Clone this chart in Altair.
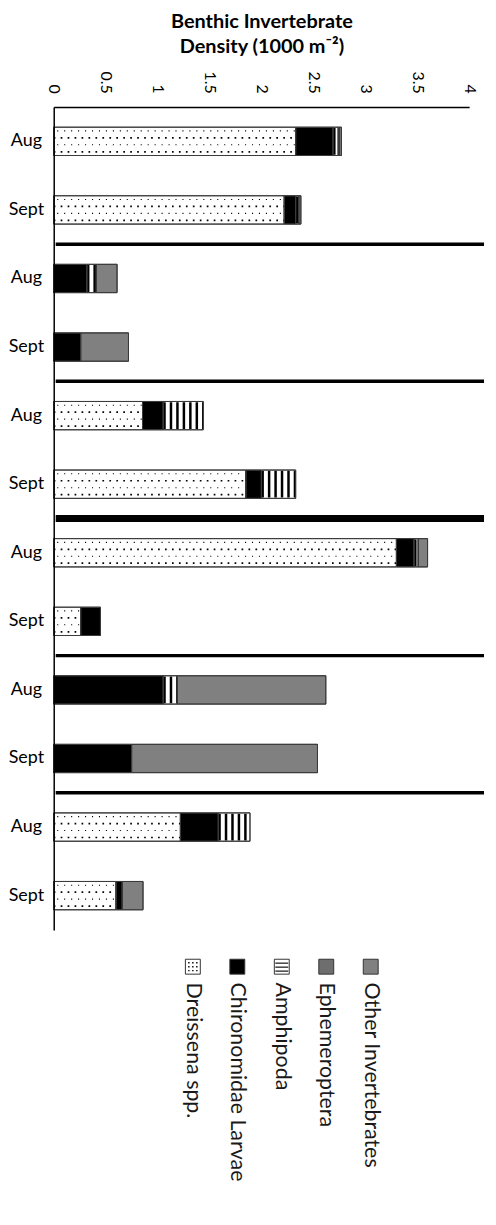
import altair as alt
import pandas as pd

# ---- data ----
groups = [1, 1, 2, 2, 3, 3, 4, 4, 5, 5, 6, 6]
months = ["Aug", "Sept"] * 6
dreissena = [2.33, 2.22, 0, 0, 0.855, 1.85, 3.30, 0.26, 0, 0, 1.22, 0.60]
chironomidae = [0.36, 0.11, 0.32, 0.26, 0.20, 0.15, 0.17, 0.19, 1.055, 0.75, 0.365, 0.06]
amphipoda = [0.05, 0.03, 0.09, 0, 0.385, 0.33, 0.04, 0, 0.135, 0, 0.305, 0]
ephemeroptera = [0.01, 0, 0, 0, 0, 0, 0, 0, 0, 0, 0, 0]
other = [0.02, 0.02, 0.20, 0.46, 0, 0, 0.09, 0, 1.43, 1.79, 0, 0.20]

species = ["Dreissena spp.", "Chironomidae Larvae", "Amphipoda", "Ephemeroptera", "Other Invertebrates"]
fills = ["#ffffff", "#000000", "#ffffff", "#8c8c8c", "#808080"]
legend_fills = ["#ffffff", "#000000", "#ffffff", "#6e6e6e", "#808080"]
tick_values = [0, 0.5, 1, 1.5, 2, 2.5, 3, 3.5, 4]
title_lines = ["Benthic Invertebrate", "Density (1000 m\u207b\u00b2)"]
thin_separators = ["1-Sept", "2-Sept", "4-Sept", "5-Sept"]
thick_separators = ["3-Sept"]

FONT = "Lato"
W, H = 418, 828

ids = [f"{g}-{m}" for g, m in zip(groups, months)]
series = [dreissena, chironomidae, amphipoda, ephemeroptera, other]
rows = []
for i, bid in enumerate(ids):
    start = 0.0
    for sp, vals in zip(species, series):
        v = vals[i]
        if v > 0:
            rows.append({"bar": bid, "species": sp, "start": start, "end": start + v})
        start += v
df = pd.DataFrame(rows)

x_enc = alt.X(
    "start:Q",
    scale=alt.Scale(domain=[0, 4], nice=False, zero=True),
    axis=alt.Axis(
        orient="top", values=tick_values, labelAngle=90, ticks=False, grid=False,
        title=title_lines, titleFont=FONT, titleFontSize=20, titleFontWeight="bold",
        titleColor="#000", titleLineHeight=24.5, titlePadding=15,
        labelFont=FONT, labelFontSize=16, labelColor="#000", labelPadding=14,
        domainColor="#000", domainWidth=1.5, format="~g",
    ),
)
y_enc = alt.Y(
    "bar:N",
    scale=alt.Scale(domain=ids, paddingInner=0.587, paddingOuter=0.2935),
    axis=alt.Axis(
        title=None, ticks=False, grid=False,
        labelExpr="split(datum.value, '-')[1]", labelAlign="center", labelPadding=28,
        labelFont=FONT, labelFontSize=18, labelColor="#000",
        domainColor="#000", domainWidth=1.5,
    ),
    sort=None,
)

base = alt.Chart(df)
bars = base.mark_rect(stroke="#3a3a3a", strokeWidth=1).encode(
    x=x_enc, x2="end:Q", y=y_enc,
    fill=alt.Fill("species:N", scale=alt.Scale(domain=species, range=fills), legend=None),
)

dre = base.transform_filter(alt.datum.species == species[0])
dot_rows = []
for k, yo in enumerate([-10.5, -3.5, 3.5, 10.5]):
    big = k % 2 == 1
    dot_rows.append(
        dre.mark_rule(
            color="#000", yOffset=yo,
            strokeWidth=1.7 if big else 1.1,
            strokeDash=[1.7, 5.3] if big else [1.1, 5.9],
            strokeDashOffset=0 if big else -3.5,
        ).encode(x="start:Q", x2="end:Q", y=alt.Y("bar:N"))
    )

amph = base.transform_filter(alt.datum.species == species[2]).mark_rule(
    color="#000", strokeWidth=27, strokeDash=[2.5, 4]
).encode(x="start:Q", x2="end:Q", y=alt.Y("bar:N"))

outline = base.mark_rect(fillOpacity=0, stroke="#3a3a3a", strokeWidth=1).encode(
    x="start:Q", x2="end:Q", y=alt.Y("bar:N")
)

thin = alt.Chart(pd.DataFrame({"bar": thin_separators})).mark_rule(
    color="#000", strokeWidth=3.5, yOffset=34.5
).encode(y=alt.Y("bar:N"), x=alt.value(2), x2=alt.value(433))
thick = alt.Chart(pd.DataFrame({"bar": thick_separators})).mark_rule(
    color="#000", strokeWidth=7, yOffset=34.5
).encode(y=alt.Y("bar:N"), x=alt.value(2), x2=alt.value(433))

main = alt.layer(bars, *dot_rows, amph, outline, thin, thick)

# ---- legend (rotated, as in the reference), drawn below the plot ----
SQ_Y = H + 37
TX_Y = H + 53
leg = alt.Chart(pd.DataFrame({"species": species}))
lx = alt.X("species:N", scale=alt.Scale(type="point", domain=species, range=[140, 319], padding=0), axis=None, sort=None)
squares = leg.mark_square(size=225, stroke="#333", strokeWidth=1, opacity=1).encode(
    x=lx, y=alt.value(SQ_Y),
    fill=alt.Fill("species:N", scale=alt.Scale(domain=species, range=legend_fills), legend=None),
)
leg_layers = [squares]
for yo in [-3.5, 0.5, 4.5]:
    leg_layers.append(
        leg.transform_filter(alt.datum.species == species[2]).mark_tick(
            orient="horizontal", size=13, thickness=1.6, color="#000", yOffset=yo
        ).encode(x=lx, y=alt.value(SQ_Y))
    )
for xo in [-4, 0, 4]:
    for yo in [-4, 0, 4]:
        leg_layers.append(
            leg.transform_filter(alt.datum.species == species[0]).mark_point(
                shape="square", filled=True, size=2, color="#000", xOffset=xo, yOffset=yo, opacity=1
            ).encode(x=lx, y=alt.value(SQ_Y))
        )
texts = leg.mark_text(angle=90, align="left", baseline="middle", fontSize=21.5, font=FONT, color="#1a1a1a").encode(
    x=lx, y=alt.value(TX_Y), text="species:N"
)
leg_layers.append(texts)
legend = alt.layer(*leg_layers)

chart = (
    alt.layer(main, legend)
    .resolve_scale(x="independent", fill="independent")
    .properties(width=W, height=H, padding=0)
    .configure_view(stroke=None)
)

chart.save("out.html", embed_options={"renderer": "svg", "actions": False})
